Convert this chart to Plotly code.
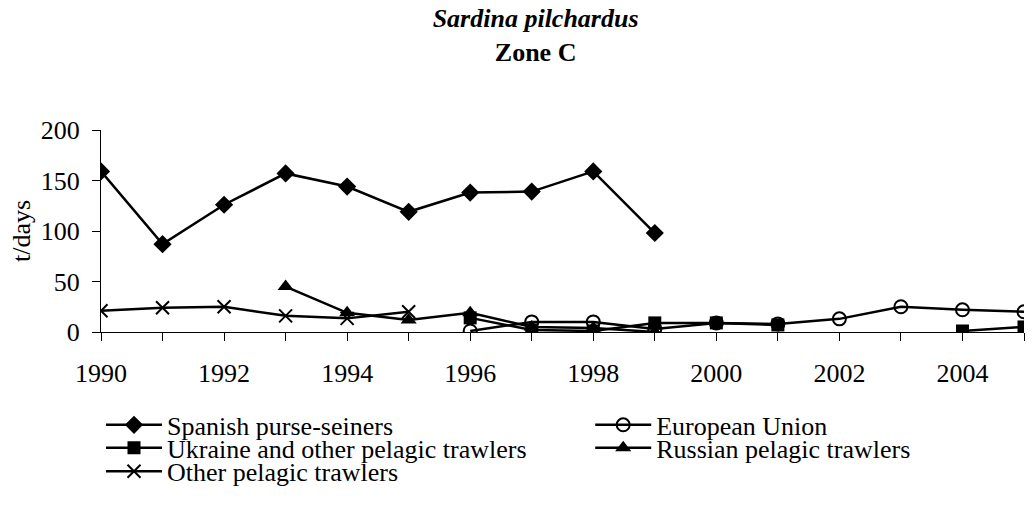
import plotly.graph_objects as go

years = list(range(1990, 2006))

# t/days per fleet, None where there is no value
spanish = [159, 87, 126, 157, 144, 119, 138, 139, 159, 98, None, None, None, None, None, None]
eu = [None, None, None, None, None, None, 1, 10, 10, 3, 9, 8, 13, 25, 22, 20]
ukraine = [None, None, None, None, None, None, 14, 2, 1, 9, 9, 7, None, None, 1, 5]
russian = [None, None, None, 45, 19, 12, 19, 5, 4, 0, None, None, None, None, None, None]
other = [21, 24, 25, 16, 13.5, 20, None, None, None, None, None, None, None, None, None, None]

FONT = 'Liberation Serif'

series = [
    ('Spanish purse-seiners', spanish, dict(symbol='diamond', size=14, color='black')),
    ('European Union', eu, dict(symbol='circle-open', size=13, color='black', line=dict(width=2, color='black'))),
    ('Ukraine and other pelagic trawlers', ukraine, dict(symbol='square', size=13, color='black')),
    ('Russian pelagic trawlers', russian, dict(symbol='triangle-up', size=14, color='black')),
    ('Other pelagic trawlers', other, dict(symbol='x-thin', size=13, color='black', line=dict(width=2, color='black'))),
]

# one legend per entry so the rows can sit as tightly as in the original
legend_pos = [
    (0.0, -0.46),
    (0.53, -0.46),
    (0.0, -0.574),
    (0.53, -0.574),
    (0.0, -0.69),
]

fig = go.Figure()

for i, (name, vals, marker) in enumerate(series):
    fig.add_trace(go.Scatter(
        x=years,
        y=vals,
        mode='lines+markers',
        name=name,
        line=dict(color='black', width=2.5),
        marker=marker,
        legend='legend' if i == 0 else 'legend%d' % (i + 1),
    ))

legends = {}
for i, (lx, ly) in enumerate(legend_pos):
    key = 'legend' if i == 0 else 'legend%d' % (i + 1)
    legends[key] = dict(
        x=lx, y=ly, xanchor='left', yanchor='middle',
        font=dict(family=FONT, size=26, color='black'),
        itemwidth=56,
        bgcolor='rgba(0,0,0,0)',
    )

fig.update_layout(
    width=1034,
    height=510,
    margin=dict(l=101, r=10, t=130, b=178),
    plot_bgcolor='white',
    paper_bgcolor='white',
    font=dict(family=FONT, size=26, color='black'),
    title=dict(
        text='<b><i>Sardina pilchardus</i></b><br><b>Zone C</b>',
        x=0.518, xanchor='center',
        y=0.947, yref='container', yanchor='top',
        font=dict(family=FONT, size=26, color='black'),
    ),
    showlegend=True,
    **legends,
)

fig.update_xaxes(
    range=[1990, 2005],
    dtick=2, tick0=1990,
    showgrid=False, zeroline=False,
    showline=True, linecolor='black', linewidth=1,
    ticks='outside', ticklen=8, tickcolor='black',
    ticklabelstandoff=10,
    minor=dict(dtick=1, ticks='outside', ticklen=8, tickcolor='black', showgrid=False),
    tickfont=dict(family=FONT, size=26),
)

fig.update_yaxes(
    range=[0, 200],
    dtick=50,
    showgrid=False, zeroline=False,
    showline=True, linecolor='black', linewidth=1,
    ticks='outside', ticklen=8, tickcolor='black',
    ticklabelstandoff=7,
    tickfont=dict(family=FONT, size=26),
    title=dict(text='t/days', font=dict(family=FONT, size=26), standoff=2),
)

# drop the default body margin so the figure fills the window exactly
fig.write_html('out.html', config={'displayModeBar': False},
               post_script="document.body.style.margin = '0';")
